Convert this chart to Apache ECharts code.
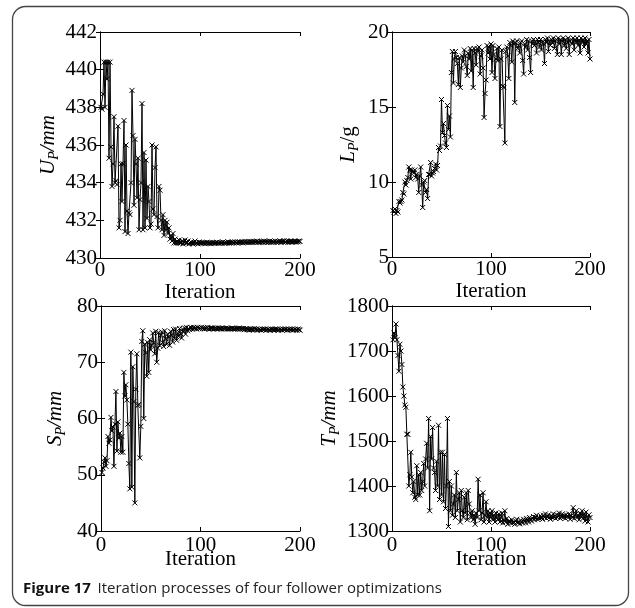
<!DOCTYPE html>
<html>
<head>
<meta charset="utf-8">
<script src="https://cdn.jsdelivr.net/npm/echarts@6/dist/echarts.min.js"></script>
<style>
  html, body { margin: 0; padding: 0; background: #fff; }
  #chart { width: 635px; height: 608px; }
</style>
</head>
<body>
<div id="chart"></div>
<script>
// iteration axis (shared by all four panels)
var iterTicks = [0, 100, 200];

// U_P / mm
var upTicks = [430, 432, 434, 436, 438, 440, 442];
var upVals = [
  438.0, 437.9, 438.7, 440.4, 438.0, 440.4, 439.5, 440.4, 435.3, 440.4,
  435.9, 433.8, 435.0, 437.5, 434.0, 434.1, 433.9, 437.0, 431.6, 432.0,
  435.0, 433.0, 435.0, 437.3, 431.4, 436.0, 432.5, 431.3, 432.4, 432.3,
  434.0, 438.9, 436.5, 432.8, 436.3, 435.0, 433.2, 435.3, 431.5, 433.1,
  434.0, 438.2, 431.5, 435.6, 431.6, 435.2, 432.1, 433.8, 433.0, 431.6,
  431.8, 436.0, 432.6, 432.3, 434.8, 435.9, 432.2, 431.6, 433.8, 433.6,
  432.0, 431.5, 432.3, 431.2, 432.0, 431.5, 431.9, 431.3, 431.6, 431.0,
  431.2, 430.9, 431.3, 430.8, 431.0, 430.8, 430.9, 430.8, 430.95, 430.8,
  430.8, 430.9, 430.75, 430.85, 430.95, 430.8, 430.8, 430.9, 430.75, 430.8,
  430.85, 430.8, 430.75, 430.8, 430.9, 430.8, 430.8, 430.75, 430.85, 430.8,
  430.8, 430.78, 430.82, 430.8, 430.76, 430.8, 430.84, 430.78, 430.8, 430.8,
  430.76, 430.8, 430.82, 430.78, 430.8, 430.8, 430.84, 430.8, 430.78, 430.82,
  430.8, 430.8, 430.85, 430.8, 430.78, 430.82, 430.8, 430.86, 430.8, 430.82,
  430.8, 430.84, 430.82, 430.8, 430.86, 430.82, 430.8, 430.85, 430.82, 430.84,
  430.82, 430.86, 430.8, 430.84, 430.88, 430.82, 430.84, 430.86, 430.82, 430.88,
  430.84, 430.86, 430.82, 430.88, 430.84, 430.86, 430.9, 430.84, 430.86, 430.82,
  430.88, 430.86, 430.84, 430.9, 430.86, 430.84, 430.88, 430.82, 430.86, 430.9,
  430.84, 430.88, 430.86, 430.84, 430.9, 430.86, 430.82, 430.88, 430.86, 430.9,
  430.84, 430.88, 430.86, 430.92, 430.84, 430.86, 430.9, 430.84, 430.88, 430.86,
  430.9, 430.84, 430.88, 430.86, 430.9, 430.84, 430.88, 430.86, 430.9, 430.88
];

// L_P / g
var lpTicks = [5, 10, 15, 20];
var lpVals = [
  8.1, 8.0, 8.2, 7.9, 8.1, 8.0, 8.7, 8.6, 8.7, 8.8,
  9.3, 9.2, 10.0, 9.8, 10.1, 10.3, 11.0, 10.8, 10.2, 10.8,
  10.7, 10.6, 10.8, 10.3, 10.5, 10.2, 9.3, 10.4, 11.0, 9.8,
  8.3, 10.0, 10.1, 9.3, 9.5, 8.9, 10.5, 10.5, 11.3, 10.4,
  10.6, 10.7, 10.9, 11.2, 10.8, 11.1, 12.3, 12.1, 12.4, 15.5,
  13.3, 13.9, 13.1, 12.6, 12.3, 15.1, 13.5, 14.4, 13.0, 17.3,
  18.7, 16.6, 18.2, 18.7, 18.3, 17.9, 16.5, 18.3, 16.3, 17.6,
  18.4, 18.0, 18.8, 18.4, 17.7, 17.1, 18.6, 18.2, 18.9, 17.4,
  18.8, 16.3, 18.9, 18.6, 17.8, 18.9, 18.7, 19.0, 17.2, 18.4,
  18.8, 17.6, 14.3, 15.9, 16.8, 19.1, 18.6, 19.0, 18.2, 19.2,
  17.3, 19.1, 18.5, 16.9, 18.2, 18.9, 18.1, 19.0, 13.7, 18.2,
  18.8, 16.4, 16.3, 12.6, 18.7, 19.0, 18.4, 16.9, 19.3, 19.1,
  18.0, 19.4, 19.2, 15.3, 19.3, 19.4, 18.9, 19.1, 18.6, 19.3,
  19.4, 18.1, 17.2, 19.2, 19.0, 19.5, 18.8, 19.4, 18.3, 17.3,
  19.4, 19.2, 19.5, 19.1, 19.4, 18.6, 19.5, 19.3, 19.0, 19.5,
  18.8, 19.4, 19.2, 17.9, 19.5, 19.3, 19.6, 18.7, 19.4, 19.1,
  19.5, 19.3, 19.6, 18.9, 19.4, 19.5, 18.5, 19.6, 19.2, 19.5,
  18.5, 19.4, 19.6, 19.1, 19.5, 18.9, 19.3, 19.6, 18.5, 19.4,
  19.5, 19.2, 19.6, 18.8, 19.5, 19.3, 19.6, 19.1, 19.4, 18.6,
  19.6, 19.3, 19.5, 19.0, 19.6, 19.2, 19.4, 18.6, 19.5, 18.2
];

// S_P / mm
var spTicks = [40, 50, 60, 70, 80];
var spVals = [
  50.4, 51.2, 52.3, 53.0, 51.5, 52.5, 56.8, 55.6, 56.2, 60.2,
  57.8, 58.5, 51.5, 59.0, 64.8, 54.2, 59.4, 56.5, 57.4, 54.0,
  56.8, 54.0, 68.2, 64.0, 66.0, 63.3, 59.0, 52.0, 47.5, 71.8,
  47.8, 69.2, 63.0, 45.0, 65.2, 71.5, 62.3, 62.5, 53.0, 58.6,
  73.7, 75.6, 60.0, 73.2, 71.7, 67.5, 73.5, 68.2, 74.0, 72.2,
  73.0, 75.2, 73.5, 71.5, 75.5, 70.0, 72.5, 75.3, 73.0, 74.8,
  75.4, 73.5, 72.8, 75.6, 74.2, 73.2, 75.0, 74.5, 73.0, 75.5,
  74.8, 73.6, 75.8, 74.2, 75.9, 73.9, 75.2, 74.6, 76.0, 75.1,
  74.3, 75.9, 75.4, 76.1, 75.0, 76.2, 75.6, 76.0, 75.8, 76.2,
  76.1, 75.9, 76.2, 76.0, 76.1, 75.9, 76.2, 76.0, 76.1, 76.0,
  76.2, 76.0, 76.1, 75.9, 76.1, 76.0, 76.2, 76.0, 75.9, 76.1,
  76.0, 76.1, 75.9, 76.0, 76.1, 76.0, 75.9, 76.1, 76.0, 76.0,
  75.9, 76.1, 76.0, 75.9, 76.0, 76.1, 75.9, 76.0, 76.0, 75.9,
  76.0, 76.1, 75.9, 76.0, 75.9, 76.0, 76.0, 75.9, 76.1, 75.9,
  76.0, 75.9, 76.0, 75.8, 75.9, 76.0, 75.8, 75.9, 75.7, 75.9,
  75.8, 75.9, 75.8, 76.0, 75.8, 75.9, 75.7, 75.8, 75.9, 75.8,
  75.7, 75.9, 75.8, 75.8, 75.9, 75.7, 75.8, 75.9, 75.8, 75.7,
  75.9, 75.8, 75.8, 75.7, 75.9, 75.8, 75.9, 75.7, 75.8, 75.9,
  75.8, 75.7, 75.9, 75.8, 75.8, 75.9, 75.7, 75.8, 75.9, 75.8,
  75.8, 75.9, 75.7, 75.8, 75.9, 75.8, 75.7, 75.9, 75.8, 75.7
];

// T_P / mm
var tpTicks = [1300, 1400, 1500, 1600, 1700, 1800];
var tpVals = [
  1725, 1740, 1730, 1760, 1725, 1690, 1655, 1715, 1700, 1670,
  1620, 1600, 1580, 1575, 1515, 1515, 1400, 1425, 1475, 1420,
  1385, 1410, 1375, 1370, 1445, 1380, 1425, 1380, 1430, 1390,
  1410, 1450, 1400, 1460, 1495, 1440, 1550, 1345, 1510, 1460,
  1530, 1440, 1430, 1390, 1455, 1400, 1535, 1370, 1475, 1380,
  1475, 1365, 1470, 1350, 1400, 1550, 1310, 1410, 1345, 1400,
  1335, 1360, 1380, 1330, 1430, 1345, 1370, 1385, 1320, 1390,
  1345, 1330, 1375, 1340, 1385, 1325, 1390, 1360, 1340, 1330,
  1345, 1325, 1335, 1315, 1340, 1330, 1415, 1345, 1380, 1325,
  1340, 1385, 1320, 1335, 1365, 1330, 1345, 1320, 1340, 1330,
  1345, 1325, 1335, 1320, 1340, 1330, 1325, 1338, 1320, 1330,
  1340, 1318, 1325, 1345, 1320, 1328, 1315, 1322, 1320, 1318,
  1325, 1318, 1320, 1315, 1322, 1326, 1318, 1320, 1316, 1324,
  1320, 1318, 1326, 1322, 1318, 1328, 1324, 1320, 1330, 1325,
  1322, 1328, 1332, 1325, 1330, 1335, 1326, 1330, 1328, 1334,
  1330, 1326, 1335, 1330, 1338, 1328, 1332, 1336, 1330, 1326,
  1334, 1330, 1338, 1332, 1328, 1336, 1330, 1334, 1340, 1328,
  1332, 1338, 1330, 1335, 1328, 1336, 1332, 1330, 1338, 1326,
  1334, 1330, 1352, 1328, 1336, 1345, 1330, 1335, 1325, 1340,
  1332, 1345, 1328, 1338, 1322, 1342, 1330, 1320, 1336, 1330
];

var serif = 'Liberation Serif';
var fs = 21;
var crossMark = 'path://M0 0L10 10M10 0L0 10';

// panel layout: plot boxes, name gaps
var panels = [
  { grid: { left: 100, top: 32, width: 200, height: 226 }, ticks: upTicks, vals: upVals,
    name: '{i|U}{s|P}{i|/mm}', yGap: 39, xGap: 22, xMargin: 2, xMove: true },
  { grid: { left: 392, top: 32, width: 198, height: 225 }, ticks: lpTicks, vals: lpVals,
    name: '{i|L}{s|P}{n|/g}', yGap: 31, xGap: 22, xMargin: 2, xMove: true },
  { grid: { left: 101, top: 306, width: 199, height: 225 }, ticks: spTicks, vals: spVals,
    name: '{i|S}{s|P}{i|/mm}', yGap: 33, xGap: 18, xMargin: 4, xMove: false },
  { grid: { left: 392, top: 306, width: 198, height: 225 }, ticks: tpTicks, vals: tpVals,
    name: '{i|T}{s|P}{i|/mm}', yGap: 50, xGap: 18, xMargin: 4, xMove: false }
];

var nameRich = {
  i: { fontFamily: serif, fontStyle: 'italic', fontSize: fs, lineHeight: 26, color: '#000' },
  n: { fontFamily: serif, fontSize: fs, lineHeight: 26, color: '#000' },
  s: { fontFamily: serif, fontStyle: 'italic', fontSize: 14, lineHeight: 12, verticalAlign: 'bottom', color: '#000' }
};

var blackLine = { color: '#000', width: 1 };
var plainNum = function (v) { return String(v); };
var grids = [], xAxes = [], yAxes = [], series = [];

panels.forEach(function (p, k) {
  grids.push(p.grid);
  var t = p.ticks;
  var xBase = {
    gridIndex: k, type: 'value', min: iterTicks[0], max: iterTicks[iterTicks.length - 1],
    interval: iterTicks[1] - iterTicks[0],
    axisLine: { show: true, lineStyle: blackLine },
    axisTick: { show: true, inside: true, length: 4, lineStyle: blackLine },
    splitLine: { show: false }
  };
  xAxes.push(Object.assign({}, xBase, {
    position: 'bottom',
    axisLabel: { fontFamily: serif, fontSize: fs, color: '#000', margin: p.xMargin, formatter: plainNum,
      showMinLabel: true, showMaxLabel: true },
    name: 'Iteration', nameLocation: 'middle', nameGap: p.xGap, nameMoveOverlap: p.xMove,
    nameTextStyle: { fontFamily: serif, fontSize: fs, color: '#000' }
  }));
  xAxes.push(Object.assign({}, xBase, { position: 'top', axisLabel: { show: false } }));

  var yBase = {
    gridIndex: k, type: 'value', min: t[0], max: t[t.length - 1], interval: t[1] - t[0],
    axisLine: { show: true, lineStyle: blackLine },
    axisTick: { show: true, inside: true, length: 4, lineStyle: blackLine },
    splitLine: { show: false }
  };
  yAxes.push(Object.assign({}, yBase, {
    position: 'left',
    axisLabel: { fontFamily: serif, fontSize: fs, color: '#000', margin: 3, formatter: plainNum,
      showMinLabel: true, showMaxLabel: true },
    name: p.name, nameLocation: 'middle', nameGap: p.yGap,
    nameTextStyle: { fontFamily: serif, fontSize: fs, color: '#000', rich: nameRich }
  }));
  yAxes.push(Object.assign({}, yBase, { position: 'right', axisLabel: { show: false } }));

  series.push({
    type: 'line',
    xAxisIndex: 2 * k, yAxisIndex: 2 * k,
    data: p.vals.map(function (v, i) { return [i + 1, v]; }),
    symbol: crossMark, symbolSize: 5, showSymbol: true, showAllSymbol: true,
    lineStyle: { color: '#000', width: 1 },
    itemStyle: { color: 'rgba(0,0,0,0)', borderColor: '#000', borderWidth: 1 },
    emphasis: { disabled: true },
    animation: false
  });
});

var chart = echarts.init(document.getElementById('chart'));
chart.setOption({
  backgroundColor: '#fff',
  animation: false,
  grid: grids,
  xAxis: xAxes,
  yAxis: yAxes,
  series: series,
  graphic: [
    { type: 'rect', silent: true,
      shape: { x: 12.5, y: 6.5, width: 616, height: 599, r: 13 },
      style: { fill: 'none', stroke: '#444', lineWidth: 1.3 } },
    { type: 'text', left: 23, top: 581, silent: true,
      style: {
        text: '{b|Figure 17}  {r|Iteration processes of four follower optimizations}',
        rich: {
          b: { fontFamily: 'Open Sans', fontWeight: 'bold', fontSize: 15, fill: '#111' },
          r: { fontFamily: 'Open Sans', fontSize: 15, fill: '#222' }
        }
      } }
  ]
});
</script>
</body>
</html>
